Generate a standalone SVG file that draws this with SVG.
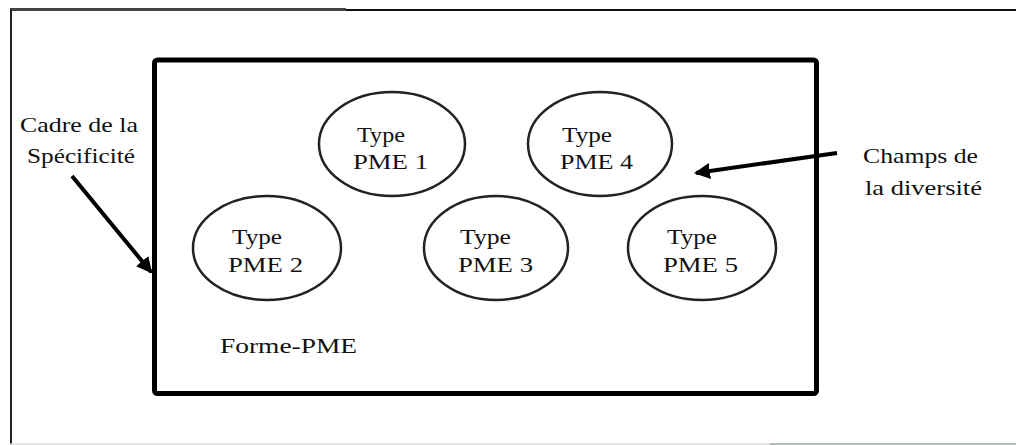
<svg xmlns="http://www.w3.org/2000/svg" width="1016" height="445" viewBox="0 0 1016 445">
<style>
.t{font-family:"Liberation Serif","Times New Roman",serif;font-size:21px;fill:#111}
.e{fill:#fff;stroke:#222;stroke-width:2.5}
.c{stroke:#000;stroke-width:4;fill:none}
</style>
<defs>
<marker id="ah" markerWidth="4" markerHeight="4" refX="3.5" refY="2" orient="auto" markerUnits="strokeWidth">
<path d="M0,0 L4,2 L0,4 Z" fill="#000"/>
</marker>
</defs>
<rect width="1016" height="445" fill="#fff"/>
<g id="frame">
<line x1="10" y1="9.5" x2="346" y2="9.5" stroke="#444" stroke-width="3"/>
<line x1="346" y1="10" x2="1016" y2="10" stroke="#111" stroke-width="2"/>
<line x1="11" y1="9" x2="11" y2="445" stroke="#222" stroke-width="2"/>
<line x1="10" y1="444" x2="770" y2="444" stroke="#ddd" stroke-width="1.5"/>
<line x1="770" y1="444" x2="1016" y2="444" stroke="#9aa" stroke-width="1.5"/>
</g>
<g id="forme-pme">
<rect x="154.5" y="60" width="662" height="333.5" rx="3" fill="none" stroke="#000" stroke-width="5"/>
<text class="t" x="220" y="353" textLength="137" lengthAdjust="spacingAndGlyphs">Forme-PME</text>
</g>
<g id="pme1">
<ellipse class="e" cx="392" cy="144" rx="73" ry="52"/>
<text class="t" x="357" y="142" textLength="48" lengthAdjust="spacingAndGlyphs">Type</text>
<text class="t" x="353" y="169" textLength="75" lengthAdjust="spacingAndGlyphs">PME 1</text>
</g>
<g id="pme4">
<ellipse class="e" cx="600" cy="144" rx="72" ry="52"/>
<text class="t" x="562" y="142" textLength="50" lengthAdjust="spacingAndGlyphs">Type</text>
<text class="t" x="560" y="169" textLength="73" lengthAdjust="spacingAndGlyphs">PME 4</text>
</g>
<g id="pme2">
<ellipse class="e" cx="267" cy="248" rx="74" ry="52"/>
<text class="t" x="232" y="244" textLength="50" lengthAdjust="spacingAndGlyphs">Type</text>
<text class="t" x="228" y="272" textLength="75" lengthAdjust="spacingAndGlyphs">PME 2</text>
</g>
<g id="pme3">
<ellipse class="e" cx="496" cy="248" rx="72" ry="52"/>
<text class="t" x="460" y="244" textLength="51" lengthAdjust="spacingAndGlyphs">Type</text>
<text class="t" x="458" y="272" textLength="75" lengthAdjust="spacingAndGlyphs">PME 3</text>
</g>
<g id="pme5">
<ellipse class="e" cx="702" cy="248" rx="74" ry="52"/>
<text class="t" x="667" y="244" textLength="50" lengthAdjust="spacingAndGlyphs">Type</text>
<text class="t" x="663" y="272" textLength="75" lengthAdjust="spacingAndGlyphs">PME 5</text>
</g>
<g id="label-specificite">
<text class="t" x="20" y="132" textLength="118" lengthAdjust="spacingAndGlyphs">Cadre de la</text>
<text class="t" x="27" y="163" textLength="108" lengthAdjust="spacingAndGlyphs">Spécificité</text>
</g>
<g id="label-diversite">
<text class="t" x="863" y="163" textLength="115" lengthAdjust="spacingAndGlyphs">Champs de</text>
<text class="t" x="865" y="195" textLength="117" lengthAdjust="spacingAndGlyphs">la diversité</text>
</g>
<g id="connectors">
<line class="c" x1="72" y1="176" x2="151" y2="272" marker-end="url(#ah)"/>
<line class="c" x1="837" y1="153" x2="696" y2="173" marker-end="url(#ah)"/>
</g>
</svg>
